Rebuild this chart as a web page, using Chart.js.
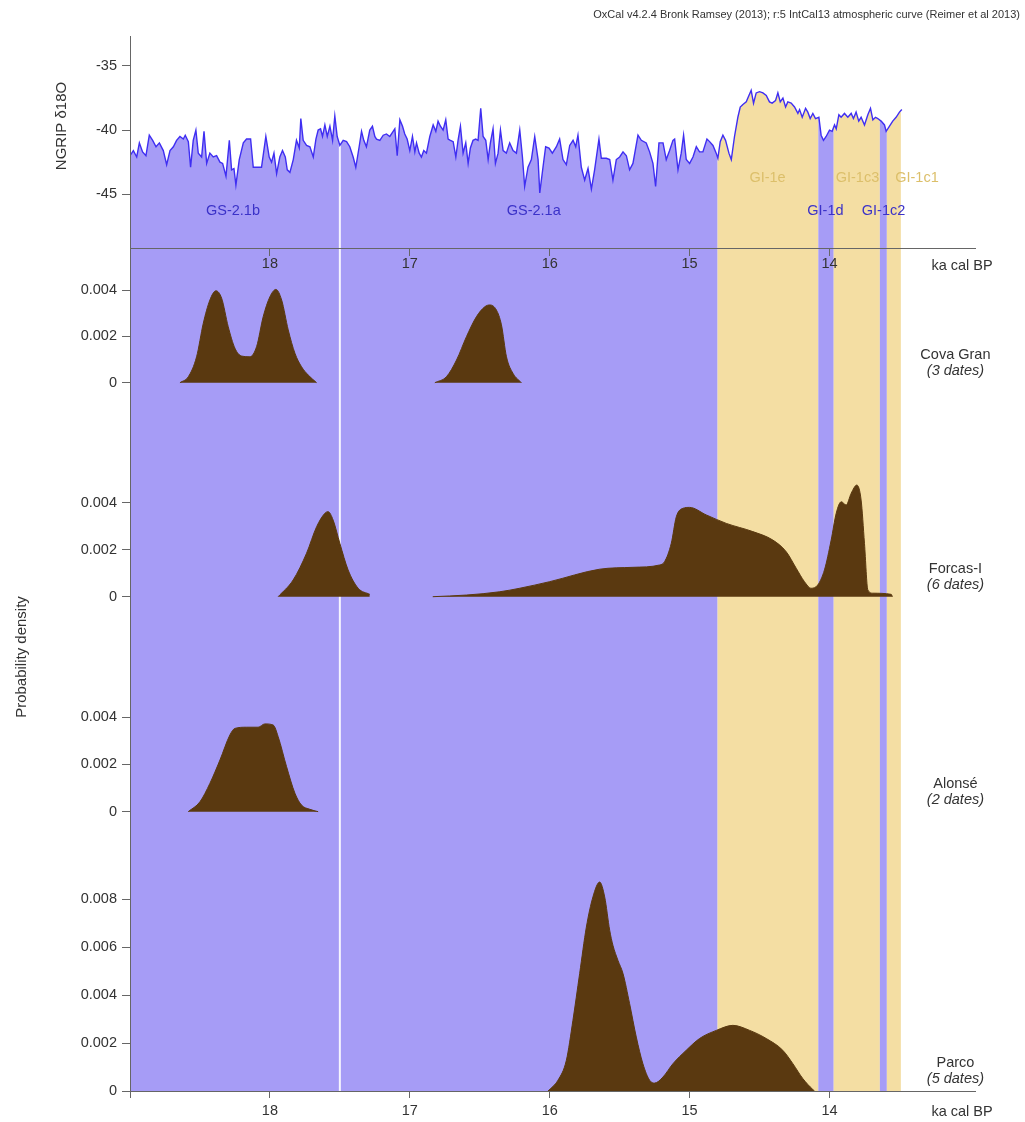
<!DOCTYPE html>
<html>
<head>
<meta charset="utf-8">
<script src="https://cdn.jsdelivr.net/npm/chart.js@4.4.1/dist/chart.umd.min.js"></script>
<style>
  html, body { margin: 0; padding: 0; background: #fff; }
</style>
</head>
<body>
<canvas id="chart" width="1025" height="1122"></canvas>
<script>
// Axis ticks
var ageTicks = [19, 18, 17, 16, 15, 14];
var ngripTicks = [-35, -40, -45];
var densityTicks = [0, 0.002, 0.004];
var parcoTicks = [0, 0.002, 0.004, 0.006, 0.008];

// NGRIP d18O record (ka cal BP, permil)
var ngripAge = [
  19.000, 18.976, 18.952, 18.933, 18.910, 18.886, 18.862, 18.838, 18.814, 18.790,
  18.762, 18.738, 18.714, 18.690, 18.667, 18.643, 18.619, 18.605, 18.583, 18.567,
  18.548, 18.529, 18.512, 18.488, 18.471, 18.452, 18.429, 18.405, 18.381, 18.357,
  18.338, 18.314, 18.290, 18.274, 18.257, 18.243, 18.219, 18.190, 18.167, 18.138,
  18.119, 18.095, 18.060, 18.029, 18.005, 17.988, 17.971, 17.952, 17.929, 17.910,
  17.890, 17.876, 17.857, 17.833, 17.810, 17.790, 17.779, 17.762, 17.738, 17.714,
  17.690, 17.671, 17.655, 17.638, 17.624, 17.607, 17.590, 17.571, 17.552, 17.536,
  17.519, 17.500, 17.476, 17.452, 17.429, 17.405, 17.386, 17.362, 17.345, 17.329,
  17.310, 17.286, 17.267, 17.250, 17.238, 17.214, 17.190, 17.167, 17.143, 17.119,
  17.107, 17.090, 17.071, 17.052, 17.036, 17.019, 17.000, 16.981, 16.964, 16.952,
  16.933, 16.917, 16.900, 16.881, 16.857, 16.833, 16.814, 16.798, 16.781, 16.762,
  16.743, 16.726, 16.710, 16.690, 16.671, 16.655, 16.638, 16.619, 16.600, 16.583,
  16.567, 16.548, 16.529, 16.512, 16.493, 16.476, 16.457, 16.440, 16.424, 16.405,
  16.388, 16.369, 16.352, 16.333, 16.310, 16.286, 16.262, 16.238,
  16.214, 16.195, 16.179, 16.155, 16.131, 16.107, 16.083, 16.071, 16.048, 16.029,
  16.005, 15.981, 15.952, 15.929, 15.905, 15.881, 15.857, 15.833, 15.814, 15.798,
  15.774, 15.750, 15.726, 15.702, 15.679, 15.648, 15.631, 15.595, 15.571, 15.548,
  15.524, 15.500, 15.476, 15.452, 15.429, 15.405, 15.369, 15.345, 15.310, 15.286,
  15.262, 15.243, 15.219, 15.190, 15.167, 15.143, 15.119, 15.107, 15.083, 15.060,
  15.043, 15.024, 15.000, 14.976, 14.952, 14.929, 14.905,
  14.876, 14.857, 14.833, 14.810, 14.798, 14.781, 14.762, 14.743, 14.719, 14.702,
  14.679, 14.655, 14.638, 14.619, 14.595, 14.576, 14.560, 14.543, 14.524, 14.500,
  14.476, 14.452, 14.429, 14.410, 14.386, 14.369, 14.352, 14.333, 14.314, 14.298,
  14.274, 14.250, 14.226, 14.214, 14.195, 14.171, 14.155, 14.138, 14.119, 14.100,
  14.076, 14.060, 14.043, 14.024, 14.000, 13.981, 13.964, 13.952, 13.933, 13.917,
  13.893, 13.869, 13.845, 13.829, 13.810, 13.791, 13.774, 13.750, 13.726, 13.707,
  13.690, 13.671, 13.655, 13.631, 13.607, 13.595, 13.571, 13.548, 13.524, 13.500, 13.483
];
var ngripD18O = [
  -42.0, -41.6, -42.1, -41.0, -41.7, -42.0, -40.4, -40.8, -41.3, -41.0,
  -41.6, -42.7, -41.6, -41.3, -40.8, -40.5, -40.7, -40.4, -40.9, -42.9,
  -40.8, -40.0, -41.8, -42.1, -40.1, -42.6, -41.8, -42.1, -42.0, -42.5,
  -42.6, -43.6, -40.8, -43.1, -43.0, -44.3, -42.3, -41.0, -40.7, -40.7,
  -42.9, -42.9, -42.9, -40.5, -42.1, -42.5, -41.8, -43.4, -42.1, -41.6,
  -42.1, -43.1, -43.3, -42.3, -40.8, -41.4, -39.1, -40.8, -41.2, -41.3,
  -42.1, -40.7, -40.0, -39.9, -40.5, -39.6, -40.5, -39.7, -40.8, -38.9,
  -40.5, -41.2, -40.8, -40.9, -41.3, -42.1, -42.9, -41.3, -40.1, -40.8,
  -41.3, -40.0, -39.7, -40.5, -40.7, -40.8, -40.4, -40.3, -40.5, -40.1,
  -39.9, -42.0, -39.2, -39.7, -40.3, -40.7, -41.6, -40.5, -41.7, -41.0,
  -41.8, -42.1, -41.6, -41.8, -40.5, -39.6, -40.1, -39.3, -39.7, -40.0,
  -39.2, -40.7, -40.8, -40.9, -42.1, -40.8, -39.7, -41.8, -41.0, -42.6,
  -41.4, -40.8, -40.7, -40.8, -38.3, -40.5, -40.8, -42.3, -41.0, -39.9,
  -42.6, -41.8, -40.0, -41.6, -41.8, -41.0, -41.6, -41.8,
  -40.0, -42.1, -44.4, -42.9, -42.3, -40.5, -42.3, -44.9, -42.9, -41.3,
  -41.4, -41.8, -41.3, -40.7, -42.3, -42.7, -41.2, -40.8, -41.3, -40.4,
  -42.9, -43.9, -43.0, -44.6, -43.1, -40.7, -42.2, -42.2, -42.3, -43.9,
  -42.3, -42.1, -41.7, -42.0, -43.1, -42.6, -40.4, -40.8, -41.0, -41.7,
  -42.6, -44.4, -41.0, -41.0, -42.3, -41.6, -40.8, -40.7, -43.1, -41.8,
  -40.4, -42.3, -42.6, -42.1, -41.3, -41.7, -41.7,
  -40.7, -40.9, -41.2, -41.8, -42.2, -40.9, -40.4, -40.8, -41.8, -42.3,
  -40.5, -39.0, -38.2, -38.0, -37.8, -37.3, -36.9, -37.9, -37.1, -37.0,
  -37.1, -37.3, -37.8, -37.9, -37.7, -37.1, -37.8, -37.5, -38.2, -37.8,
  -37.9, -38.2, -38.7, -38.4, -39.0, -38.3, -38.6, -39.1, -38.7, -39.1,
  -39.0, -40.4, -40.8, -40.5, -40.0, -40.1, -39.6, -39.9, -38.8, -39.0,
  -38.7, -39.0, -38.7, -39.1, -38.6, -39.3, -39.0, -39.6, -38.8, -38.3,
  -39.2, -39.0, -39.1, -39.3, -39.6, -40.1, -39.7, -39.3, -39.0, -38.6, -38.4
];

// Summed probability densities per site (null = gap)
var covaAge = [18.643, 18.583, 18.524, 18.476, 18.429, 18.386, 18.345, 18.298, 18.250, 18.202,
  18.143, 18.095, 18.048, 18.000, 17.957, 17.916, 17.869, 17.821, 17.774, 17.726, 17.666,
  17.200,
  16.821, 16.738, 16.666, 16.595, 16.524, 16.464, 16.429, 16.381, 16.345, 16.309, 16.262, 16.202];
var covaProb = [0, 0.00026, 0.00112, 0.00257, 0.00357, 0.00397, 0.00365, 0.00242, 0.00149, 0.00115,
  0.00112, 0.00156, 0.00285, 0.00371, 0.00403, 0.00357, 0.00228, 0.00127, 0.00069, 0.00033, 0,
  null,
  0, 0.00026, 0.00098, 0.00199, 0.00285, 0.00328, 0.00336, 0.00314, 0.0025, 0.00112, 0.0004, 0];

var forcasAge = [17.941, 17.834, 17.738, 17.666, 17.607, 17.584, 17.548, 17.500, 17.441, 17.369, 17.286,
  17.100,
  16.836, 16.595, 16.357, 16.214, 16.000, 15.643, 15.405, 15.214, 15.179, 15.131, 15.095, 15.048, 15.000,
  14.881, 14.738, 14.548, 14.405, 14.309, 14.238, 14.179, 14.131, 14.084, 14.036, 13.988, 13.952,
  13.916, 13.881, 13.845, 13.805, 13.774, 13.750, 13.726, 13.691, 13.559, 13.550];
var forcasProb = [0, 0.00071, 0.00185, 0.00298, 0.00355, 0.00362, 0.00326, 0.00227, 0.00114, 0.00036, 0.0001,
  null,
  0, 0.00007, 0.00021, 0.00036, 0.00064, 0.00117, 0.00125, 0.00135, 0.00149, 0.00227, 0.0034, 0.00376, 0.0038,
  0.00348, 0.00312, 0.00277, 0.00241, 0.00191, 0.00121, 0.00064, 0.00036, 0.0005, 0.00114, 0.00241, 0.00355,
  0.00404, 0.0039, 0.0044, 0.00475, 0.00411, 0.00227, 0.00029, 0.00015, 0.0001, 0];

var alonseAge = [18.584, 18.500, 18.429, 18.357, 18.286, 18.250, 18.166, 18.084, 18.036, 17.976,
  17.941, 17.881, 17.821, 17.774, 17.714, 17.655];
var alonseProb = [0, 0.00042, 0.0012, 0.00219, 0.00325, 0.00353, 0.00358, 0.00358, 0.00372, 0.00367,
  0.00318, 0.00191, 0.00078, 0.00028, 0.0001, 0];

var parcoAge = [16.012, 15.941, 15.881, 15.834, 15.786, 15.738, 15.691, 15.643, 15.607, 15.571,
  15.548, 15.512, 15.476, 15.429, 15.381, 15.334, 15.286, 15.250, 15.191, 15.119,
  15.024, 14.929, 14.809, 14.691, 14.571, 14.452, 14.334, 14.262, 14.191, 14.119, 14.107];
var parcoProb = [0, 0.00045, 0.00128, 0.00295, 0.0049, 0.00684, 0.0081, 0.00872, 0.0081, 0.0067,
  0.00608, 0.00545, 0.0049, 0.00365, 0.00225, 0.00114, 0.00045, 0.00033, 0.00058, 0.00114,
  0.0017, 0.00219, 0.00253, 0.00274, 0.00253, 0.00219, 0.0017, 0.00114, 0.00052, 0.00006, 0];

// Greenland stadial / interstadial events (ka cal BP)
var bandStart = [19.0, 14.8, 14.08, 13.97, 13.64, 13.59];
var bandEnd = [14.8, 14.08, 13.97, 13.64, 13.59, 13.49];
var bandKind = ['GS', 'GI', 'GS', 'GI', 'GS', 'GI'];
var markerAge = 17.5;

var eventNames = ['GS-2.1b', 'GS-2.1a', 'GI-1e', 'GI-1d', 'GI-1c3', 'GI-1c2', 'GI-1c1'];
var eventAge = [18.264, 16.114, 14.443, 14.029, 13.800, 13.614, 13.375];
var eventLevel = [-46.3, -46.3, -43.7, -46.3, -43.7, -46.3, -43.7];
var eventKind = ['GS', 'GS', 'GI', 'GS', 'GI', 'GS', 'GI'];

var siteNames = ['Cova Gran', 'Forcas-I', 'Alonsé', 'Parco'];
var siteDates = ['(3 dates)', '(6 dates)', '(2 dates)', '(5 dates)'];
var siteAxes = ['yC', 'yF', 'yA', 'yP'];

var GS_COLOR = '#a69cf6';
var GI_COLOR = '#f4dea3';
var BROWN = '#5a3910';
var LINE_BLUE = '#3f2ef2';
var GS_TEXT = '#3b32c8';
var GI_TEXT = '#dcbf6a';
var TEXT = '#333333';
var AXIS = '#666666';
var FONT = '"Liberation Sans", Arial, sans-serif';

function pairs(xs, ys) {
  var out = [];
  for (var i = 0; i < xs.length; i++) out.push({x: xs[i], y: ys[i]});
  return out;
}

function densitySet(xs, ys, axis) {
  return {
    data: pairs(xs, ys),
    xAxisID: 'x',
    yAxisID: axis,
    borderColor: BROWN,
    backgroundColor: BROWN,
    borderWidth: 1,
    fill: 'origin',
    pointRadius: 0,
    cubicInterpolationMode: 'monotone',
    spanGaps: false
  };
}

// axes are drawn above the coloured bands (z: 1 on grid, border and ticks)
function yAxis(min, max, size, order, tickList) {
  return {
    type: 'linear',
    position: 'left',
    stack: 'panels',
    stackWeight: size,
    weight: order,
    min: min,
    max: max,
    afterBuildTicks: function(s) { s.ticks = tickList.map(function(v) { return {value: v}; }); },
    afterFit: function(s) { s.width = 130; },
    grid: {drawOnChartArea: false, tickLength: 8, color: AXIS, z: 1},
    border: {color: AXIS, z: 1},
    ticks: {
      z: 1,
      font: {family: FONT, size: 14.5},
      color: TEXT,
      padding: 5,
      callback: function(v) { return String(v); }
    }
  };
}

function xAxis(position, tickList, pad) {
  return {
    type: 'linear',
    axis: 'x',
    position: position,
    reverse: true,
    min: 12.96,
    max: 19,
    afterBuildTicks: function(s) { s.ticks = tickList.map(function(v) { return {value: v}; }); },
    afterFit: function(s) { if (position === 'bottom') s.height = 31; },
    grid: {drawOnChartArea: false, tickLength: 7, color: AXIS, z: 1},
    border: {color: AXIS, z: 1},
    ticks: {
      z: 1,
      font: {family: FONT, size: 14.5},
      color: TEXT,
      padding: pad,
      maxRotation: 0,
      autoSkip: false,
      callback: function(v) { return v === 19 ? '' : String(v); }
    }
  };
}

var decorations = {
  id: 'decorations',
  beforeDatasetsDraw: function(chart) {
    var ctx = chart.ctx, area = chart.chartArea, x = chart.scales.x;
    ctx.save();
    for (var i = 0; i < bandStart.length; i++) {
      var x0 = x.getPixelForValue(bandStart[i]);
      var x1 = x.getPixelForValue(bandEnd[i]);
      ctx.fillStyle = bandKind[i] === 'GS' ? GS_COLOR : GI_COLOR;
      ctx.fillRect(x0, area.top, x1 - x0, area.bottom - area.top);
    }
    var xm = x.getPixelForValue(markerAge);
    ctx.strokeStyle = 'rgba(255,255,255,0.9)';
    ctx.lineWidth = 2;
    ctx.beginPath();
    ctx.moveTo(xm, area.top);
    ctx.lineTo(xm, area.bottom);
    ctx.stroke();
    ctx.restore();
  },
  afterDatasetsDraw: function(chart) {
    var ctx = chart.ctx, x = chart.scales.x, yD = chart.scales.yD;
    ctx.save();
    ctx.textAlign = 'center';
    ctx.textBaseline = 'middle';
    ctx.font = '14.5px ' + FONT;
    for (var i = 0; i < eventNames.length; i++) {
      ctx.fillStyle = eventKind[i] === 'GS' ? GS_TEXT : GI_TEXT;
      ctx.fillText(eventNames[i], x.getPixelForValue(eventAge[i]), yD.getPixelForValue(eventLevel[i]));
    }
    // site labels at the right of each panel
    var sx = x.getPixelForValue(13.1);
    ctx.fillStyle = TEXT;
    for (var j = 0; j < siteNames.length; j++) {
      var base = chart.scales[siteAxes[j]].getPixelForValue(0);
      ctx.font = '14.5px ' + FONT;
      ctx.fillText(siteNames[j], sx, base - 28);
      ctx.font = 'italic 14.5px ' + FONT;
      ctx.fillText(siteDates[j], sx, base - 12);
    }
    // axis unit labels
    ctx.font = '14.5px ' + FONT;
    var ux = x.right - 13;
    ctx.fillText('ka cal BP', ux, yD.bottom + 18);
    ctx.fillText('ka cal BP', ux, x.top + 21);
    // rotated axis titles
    ctx.save();
    ctx.translate(62, 126);
    ctx.rotate(-Math.PI / 2);
    ctx.font = '15px ' + FONT;
    ctx.fillText('NGRIP \u03b418O', 0, 0);
    ctx.restore();
    ctx.save();
    ctx.translate(22, 657);
    ctx.rotate(-Math.PI / 2);
    ctx.font = '15px ' + FONT;
    ctx.fillText('Probability density', 0, 0);
    ctx.restore();
    // calibration note
    ctx.textAlign = 'right';
    ctx.font = '11px ' + FONT;
    ctx.fillText('OxCal v4.2.4 Bronk Ramsey (2013); r:5 IntCal13 atmospheric curve (Reimer et al 2013)', 1020, 15);
    ctx.restore();
  }
};

var ngripSet = {
  data: pairs(ngripAge, ngripD18O),
  xAxisID: 'x',
  yAxisID: 'yD',
  borderColor: LINE_BLUE,
  backgroundColor: '#ffffff',
  borderWidth: 1.4,
  fill: 'end',
  pointRadius: 0,
  tension: 0
};

new Chart(document.getElementById('chart'), {
  type: 'line',
  data: {
    datasets: [
      ngripSet,
      densitySet(covaAge, covaProb, 'yC'),
      densitySet(forcasAge, forcasProb, 'yF'),
      densitySet(alonseAge, alonseProb, 'yA'),
      densitySet(parcoAge, parcoProb, 'yP')
    ]
  },
  options: {
    responsive: false,
    animation: false,
    layout: {padding: {top: 36, right: 50, left: 0, bottom: 0}},
    plugins: {legend: {display: false}, tooltip: {enabled: false}},
    scales: {
      x: xAxis('bottom', ageTicks, 4),
      x2: xAxis({yD: -49.2}, [18, 17, 16, 15, 14], 0),
      yD: yAxis(-49.2, -32.66, 212, 5, ngripTicks),
      yC: yAxis(-0.002475, 0.005819, 192, 4, densityTicks),
      yF: yAxis(-0.002481, 0.006668, 215, 3, densityTicks),
      yA: yAxis(-0.002047, 0.00664, 205, 2, densityTicks),
      yP: yAxis(0, 0.009641, 231, 1, parcoTicks)
    }
  },
  plugins: [decorations]
});
</script>
</body>
</html>
